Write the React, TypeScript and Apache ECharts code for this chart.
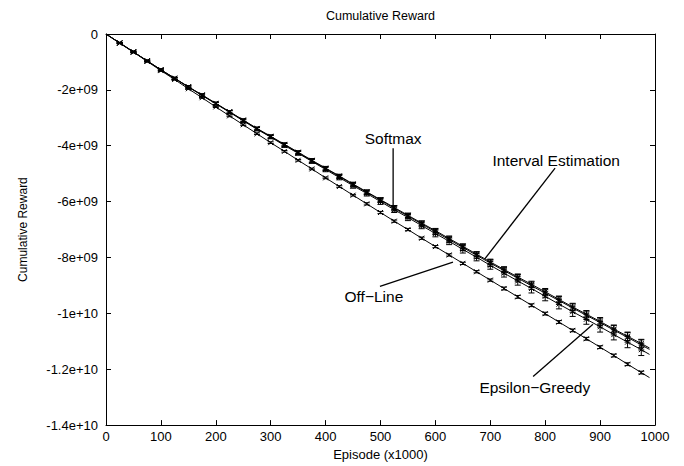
import React, { useEffect, useRef } from "react";
import * as echarts from "echarts";

// Episode (x1000) positions of the line vertices; markers are drawn at 25..975
const episodes = [0, 25, 50, 75, 100, 125, 150, 175, 200, 225, 250, 275, 300, 325, 350, 375, 400, 425, 450, 475, 500, 525, 550, 575, 600, 625, 650, 675, 700, 725, 750, 775, 800, 825, 850, 875, 900, 925, 950, 975, 990];

// Cumulative reward, in units of 1e9
const softmax = [0, -0.32, -0.64, -0.96, -1.28, -1.58, -1.89, -2.18, -2.48, -2.78, -3.08, -3.38, -3.66, -3.95, -4.23, -4.52, -4.80, -5.08, -5.37, -5.65, -5.93, -6.21, -6.49, -6.77, -7.04, -7.32, -7.60, -7.88, -8.16, -8.43, -8.70, -8.96, -9.23, -9.50, -9.77, -10.03, -10.29, -10.56, -10.82, -11.08, -11.24];
const intervalEst = [0, -0.32, -0.64, -0.96, -1.28, -1.59, -1.89, -2.19, -2.49, -2.79, -3.09, -3.39, -3.68, -3.96, -4.25, -4.54, -4.82, -5.10, -5.39, -5.67, -5.95, -6.24, -6.52, -6.80, -7.08, -7.36, -7.64, -7.92, -8.20, -8.47, -8.74, -9.01, -9.28, -9.54, -9.81, -10.07, -10.33, -10.60, -10.86, -11.13, -11.29];
const epsilonGreedy = [0, -0.32, -0.64, -0.97, -1.29, -1.59, -1.90, -2.20, -2.50, -2.80, -3.11, -3.41, -3.69, -3.99, -4.27, -4.56, -4.85, -5.14, -5.43, -5.71, -6.00, -6.29, -6.57, -6.86, -7.14, -7.42, -7.71, -7.99, -8.28, -8.56, -8.84, -9.11, -9.39, -9.67, -9.94, -10.21, -10.48, -10.76, -11.03, -11.30, -11.47];
const offLine = [0, -0.33, -0.65, -0.98, -1.31, -1.63, -1.96, -2.28, -2.61, -2.93, -3.25, -3.57, -3.89, -4.20, -4.52, -4.83, -5.15, -5.46, -5.77, -6.08, -6.39, -6.70, -7.00, -7.31, -7.61, -7.91, -8.21, -8.51, -8.81, -9.11, -9.41, -9.71, -10.01, -10.31, -10.61, -10.91, -11.21, -11.51, -11.82, -12.12, -12.30];

// Error bar half-heights (1e9) at the marker episodes 25..975
const softmaxErr = [0.02, 0.02, 0.03, 0.03, 0.03, 0.03, 0.04, 0.04, 0.04, 0.04, 0.05, 0.05, 0.05, 0.05, 0.06, 0.06, 0.06, 0.06, 0.07, 0.07, 0.07, 0.08, 0.08, 0.08, 0.09, 0.09, 0.09, 0.10, 0.10, 0.11, 0.11, 0.12, 0.12, 0.13, 0.13, 0.14, 0.14, 0.15, 0.15];
const intervalErr = [0.02, 0.03, 0.03, 0.03, 0.04, 0.04, 0.04, 0.05, 0.05, 0.05, 0.05, 0.06, 0.06, 0.06, 0.07, 0.07, 0.07, 0.08, 0.08, 0.08, 0.09, 0.09, 0.10, 0.10, 0.10, 0.11, 0.11, 0.12, 0.12, 0.13, 0.13, 0.14, 0.14, 0.15, 0.15, 0.16, 0.17, 0.17, 0.18];
const epsilonErr = [0.02, 0.03, 0.03, 0.04, 0.04, 0.04, 0.05, 0.05, 0.05, 0.06, 0.06, 0.06, 0.07, 0.07, 0.07, 0.08, 0.08, 0.09, 0.09, 0.10, 0.10, 0.11, 0.11, 0.12, 0.12, 0.13, 0.13, 0.14, 0.14, 0.15, 0.16, 0.16, 0.17, 0.17, 0.18, 0.19, 0.19, 0.20, 0.21];
const offLineErr = [0.02, 0.02, 0.02, 0.02, 0.02, 0.02, 0.02, 0.02, 0.03, 0.03, 0.03, 0.03, 0.03, 0.03, 0.03, 0.03, 0.03, 0.03, 0.04, 0.04, 0.04, 0.04, 0.04, 0.04, 0.04, 0.04, 0.04, 0.04, 0.05, 0.05, 0.05, 0.05, 0.05, 0.05, 0.05, 0.05, 0.05, 0.05, 0.05];

const seriesNames = ["Softmax", "Interval Estimation", "Epsilon\u2212Greedy", "Off\u2212Line"];

const yTickValues = [0, -2, -4, -6, -8, -10, -12, -14];
const yTickLabels = ["0", "-2e+09", "-4e+09", "-6e+09", "-8e+09", "-1e+10", "-1.2e+10", "-1.4e+10"];

const titleText = "Cumulative Reward";
const xAxisName = "Episode (x1000)";
const yAxisName = "Cumulative Reward";

// Annotation layout (data coordinates): label centre, pointer start, pointer end
const annotations = [
  { text: "Softmax", label: [523, -3.73], from: [523, -4.09], to: [523, -6.18] },
  { text: "Interval Estimation", label: [820, -4.52], from: [818, -4.80], to: [690, -8.05] },
  { text: "Off\u2212Line", label: [488, -9.39], from: [499, -9.03], to: [632, -8.17] },
  { text: "Epsilon\u2212Greedy", label: [781, -12.65], from: [778, -12.26], to: [887, -10.39] },
];

const FONT = "'Liberation Sans', Arial, Helvetica, sans-serif";

export default function App() {
  const ref = useRef<HTMLDivElement>(null);
  useEffect(() => {
    if (!ref.current) return;
    const chart = echarts.init(ref.current, null, { renderer: "svg" });
    const lines = [softmax, intervalEst, epsilonGreedy, offLine];
    const errs = [softmaxErr, intervalErr, epsilonErr, offLineErr];

    const lineSeries = lines.map((vals, i) => ({
      type: "line",
      name: seriesNames[i],
      xAxisIndex: 0,
      yAxisIndex: 0,
      data: episodes.map((x, j) => [x, vals[j]]),
      symbol: "none",
      lineStyle: { color: "#000", width: 1 },
      z: 2,
    }));

    const errSeries = lines.map((vals, i) => ({
      type: "custom",
      name: seriesNames[i] + " err",
      xAxisIndex: 0,
      yAxisIndex: 0,
      data: errs[i].map((e, k) => [episodes[k + 1], vals[k + 1], e]),
      z: 3,
      renderItem: (_params: any, api: any) => {
        const x = api.value(0);
        const y = api.value(1);
        const e = api.value(2);
        const p = api.coord([x, y]);
        const hi = api.coord([x, y + e]);
        const lo = api.coord([x, y - e]);
        const cap = 3;
        const m = 2.5;
        const st = { stroke: "#000", lineWidth: 1 };
        return {
          type: "group",
          children: [
            { type: "line", shape: { x1: p[0], y1: hi[1], x2: p[0], y2: lo[1] }, style: st },
            { type: "line", shape: { x1: p[0] - cap, y1: hi[1], x2: p[0] + cap, y2: hi[1] }, style: st },
            { type: "line", shape: { x1: p[0] - cap, y1: lo[1], x2: p[0] + cap, y2: lo[1] }, style: st },
            { type: "line", shape: { x1: p[0] - m, y1: p[1] - m, x2: p[0] + m, y2: p[1] + m }, style: st },
            { type: "line", shape: { x1: p[0] - m, y1: p[1] + m, x2: p[0] + m, y2: p[1] - m }, style: st },
          ],
        };
      },
    }));

    const axisLine = { show: true, onZero: false, lineStyle: { color: "#000", width: 1 } };
    const axisTick = { show: true, inside: true, length: 5, lineStyle: { color: "#000", width: 1 } };
    const labelStyle = { color: "#000", fontSize: 13, fontFamily: FONT };

    chart.setOption({
      animation: false,
      backgroundColor: "#fff",
      grid: { left: 106, right: 29, top: 34, bottom: 39, show: false },
      xAxis: [
        {
          type: "value", min: 0, max: 1000, interval: 100, position: "bottom",
          axisLine, axisTick, splitLine: { show: false },
          axisLabel: { ...labelStyle, margin: 5, formatter: (v: number) => String(v) },
          name: xAxisName, nameLocation: "middle", nameGap: 21,
          nameTextStyle: { ...labelStyle },
        },
        {
          type: "value", min: 0, max: 1000, interval: 100, position: "top",
          axisLine, axisTick, splitLine: { show: false }, axisLabel: { show: false },
        },
      ],
      yAxis: [
        {
          type: "value", min: -14, max: 0, interval: 2, position: "left",
          axisLine, axisTick, splitLine: { show: false },
          axisLabel: {
            ...labelStyle, margin: 8,
            formatter: (v: number) => {
              const idx = yTickValues.findIndex((t) => Math.abs(t - v) < 1e-6);
              return idx >= 0 ? yTickLabels[idx] : "";
            },
          },
          name: yAxisName, nameLocation: "middle", nameGap: 77, nameRotate: 90,
          nameTextStyle: { ...labelStyle, fontSize: 12 },
        },
        {
          type: "value", min: -14, max: 0, interval: 2, position: "right",
          axisLine, axisTick, splitLine: { show: false }, axisLabel: { show: false },
        },
      ],
      series: [...lineSeries, ...errSeries],
    });

    const toPx = (pt: number[]) => chart.convertToPixel({ xAxisIndex: 0, yAxisIndex: 0 }, pt) as number[];
    const graphics: any[] = [];
    const left = toPx([0, 0]);
    const right = toPx([1000, 0]);
    graphics.push({
      type: "text",
      x: (left[0] + right[0]) / 2,
      y: 15.5,
      style: { text: titleText, fill: "#000", font: `12.5px ${FONT}`, textAlign: "center", textVerticalAlign: "middle" },
    });
    annotations.forEach((a) => {
      const l = toPx(a.label);
      const f = toPx(a.from);
      const t = toPx(a.to);
      graphics.push({
        type: "text",
        x: l[0],
        y: l[1],
        style: { text: a.text, fill: "#000", font: `15.5px ${FONT}`, textAlign: "center", textVerticalAlign: "middle" },
        z: 10,
      });
      graphics.push({
        type: "line",
        shape: { x1: f[0], y1: f[1], x2: t[0], y2: t[1] },
        style: { stroke: "#000", lineWidth: 1.3 },
        z: 10,
      });
    });
    chart.setOption({ graphic: graphics });

    return () => chart.dispose();
  }, []);
  return (
    <div
      ref={ref}
      style={{ position: "absolute", left: 0, top: 0, width: 684, height: 466 }}
    />
  );
}
